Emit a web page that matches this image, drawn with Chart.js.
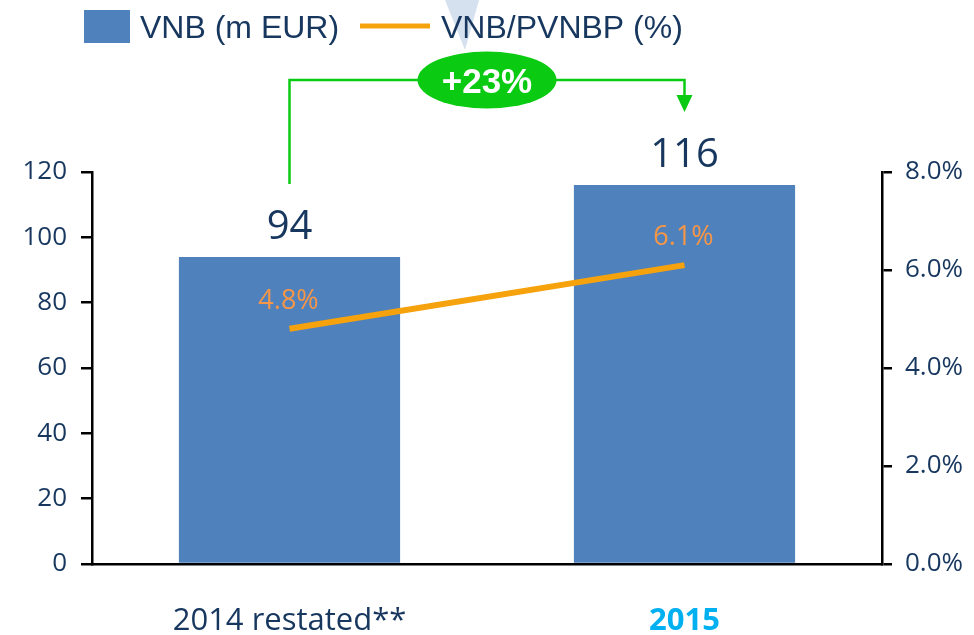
<!DOCTYPE html>
<html>
<head>
<meta charset="utf-8">
<script src="https://cdn.jsdelivr.net/npm/chart.js@4/dist/chart.umd.min.js"></script>
<style>
  html, body { margin: 0; padding: 0; background: #fff; }
  #wrap { width: 974px; height: 635px; position: relative; }
</style>
</head>
<body>
<div id="wrap"><canvas id="c" width="974" height="635"></canvas></div>
<script>
const categories = ['2014 restated**', '2015'];
const vnbValues = [94, 116];
const marginValues = [4.8, 6.1];
const leftTicks = [0, 20, 40, 60, 80, 100, 120];
const rightTicks = ['0.0%', '2.0%', '4.0%', '6.0%', '8.0%'];
const legendLabels = ['VNB (m EUR)', 'VNB/PVNBP (%)'];
const growthLabel = '+23%';

const NAVY = '#17375E';
const BAR = '#4F81BD';
const LINE = '#F5A20D';
const LABEL_ORANGE = '#F79646';
const GREEN = '#0ACB12';
const CYAN = '#00B0F0';
const TICKFONT = "'Open Sans', sans-serif";

const decor = {
  id: 'decor',
  beforeDraw(chart) {
    const ctx = chart.ctx;
    ctx.save();
    ctx.fillStyle = '#fff';
    ctx.fillRect(0, 0, chart.width, chart.height);
    // faint triangle at top
    ctx.fillStyle = '#D6E1EF';
    ctx.beginPath();
    ctx.moveTo(445, 0); ctx.lineTo(479, 0); ctx.lineTo(465, 50); ctx.closePath();
    ctx.fill();
    // legend
    ctx.fillStyle = BAR;
    ctx.fillRect(84, 10, 46, 33);
    ctx.fillStyle = NAVY;
    ctx.font = "32px 'Liberation Sans', Arial, sans-serif";
    ctx.textBaseline = 'alphabetic';
    ctx.textAlign = 'left';
    ctx.fillText(legendLabels[0], 140, 38);
    ctx.strokeStyle = LINE;
    ctx.lineWidth = 5;
    ctx.beginPath(); ctx.moveTo(360, 26); ctx.lineTo(430, 26); ctx.stroke();
    ctx.fillText(legendLabels[1], 441, 38);
    ctx.restore();
  },
  afterDatasetsDraw(chart) {
    const ctx = chart.ctx;
    const x = chart.scales.x, y = chart.scales.y, y1 = chart.scales.y1;
    ctx.save();
    // value labels above bars
    ctx.fillStyle = NAVY;
    ctx.font = "40px " + TICKFONT;
    ctx.textAlign = 'center';
    ctx.textBaseline = 'alphabetic';
    vnbValues.forEach((v, i) => {
      ctx.fillText(String(v), x.getPixelForValue(i), y.getPixelForValue(v) - 18);
    });
    // line labels
    ctx.fillStyle = LABEL_ORANGE;
    ctx.font = "27px " + TICKFONT;
    marginValues.forEach((v, i) => {
      ctx.fillText(v.toFixed(1) + '%', x.getPixelForValue(i) - 1, y1.getPixelForValue(v) - 20);
    });
    // growth annotation
    const xa = x.getPixelForValue(0), xb = x.getPixelForValue(1);
    const yTop = 80;
    const yStart = y.getPixelForValue(vnbValues[1]) - 1;
    ctx.strokeStyle = GREEN;
    ctx.lineWidth = 2.5;
    ctx.beginPath();
    ctx.moveTo(xa, yStart); ctx.lineTo(xa, yTop); ctx.lineTo(xb, yTop); ctx.lineTo(xb, 96);
    ctx.stroke();
    ctx.fillStyle = GREEN;
    ctx.beginPath();
    ctx.moveTo(xb - 8, 95); ctx.lineTo(xb + 8, 95); ctx.lineTo(xb, 112); ctx.closePath();
    ctx.fill();
    const cx = (xa + xb) / 2;
    ctx.beginPath();
    ctx.ellipse(cx, yTop, 69.5, 28.5, 0, 0, Math.PI * 2);
    ctx.fill();
    ctx.fillStyle = '#fff';
    ctx.font = "bold 35px 'Liberation Sans', Arial, sans-serif";
    ctx.textAlign = 'center';
    ctx.textBaseline = 'alphabetic';
    ctx.fillText(growthLabel, cx, 93);
    ctx.restore();
  }
};

new Chart(document.getElementById('c'), {
  type: 'bar',
  data: {
    labels: categories,
    datasets: [
      {
        type: 'bar', label: legendLabels[0], data: vnbValues, yAxisID: 'y',
        backgroundColor: BAR, barPercentage: 0.56, categoryPercentage: 1.0, order: 1
      },
      {
        type: 'line', label: legendLabels[1], data: marginValues, yAxisID: 'y1',
        borderColor: LINE, borderWidth: 6, pointRadius: 0, tension: 0, fill: false,
        borderCapStyle: 'butt', order: 0
      }
    ]
  },
  options: {
    responsive: false,
    animation: false,
    devicePixelRatio: 1,
    layout: { padding: { top: 172, left: 0, right: 0, bottom: 0 } },
    plugins: { legend: { display: false }, tooltip: { enabled: false } },
    scales: {
      x: {
        grid: { display: false, drawTicks: false },
        border: { display: true, color: '#000', width: 2.5 },
        ticks: {
          padding: 39,
          font: (c) => ({ family: TICKFONT, size: 31, weight: c.index === 1 ? 'bold' : 'normal' }),
          color: (c) => c.index === 1 ? CYAN : NAVY
        },
        afterFit(s) { s.height = 71; }
      },
      y: {
        position: 'left', min: 0, max: 120,
        afterBuildTicks(s) { s.ticks = leftTicks.map(v => ({ value: v })); },
        grid: { drawOnChartArea: false, drawTicks: true, tickLength: 11, color: '#000', lineWidth: 2.5 },
        border: { display: true, color: '#000', width: 2.5 },
        ticks: { padding: 14, color: NAVY, font: { family: TICKFONT, size: 26 } },
        afterFit(s) { s.width = 92; }
      },
      y1: {
        position: 'right', min: 0, max: 8,
        afterBuildTicks(s) { s.ticks = rightTicks.map(t => ({ value: parseFloat(t) })); },
        grid: { drawOnChartArea: false, drawTicks: true, tickLength: 10, color: '#000', lineWidth: 2.5 },
        border: { display: true, color: '#000', width: 2.5 },
        ticks: {
          padding: 13, color: NAVY, font: { family: TICKFONT, size: 26 },
          callback: (v) => rightTicks.find(t => parseFloat(t) === v) || ''
        },
        afterFit(s) { s.width = 92; }
      }
    }
  },
  plugins: [decor]
});
</script>
</body>
</html>
